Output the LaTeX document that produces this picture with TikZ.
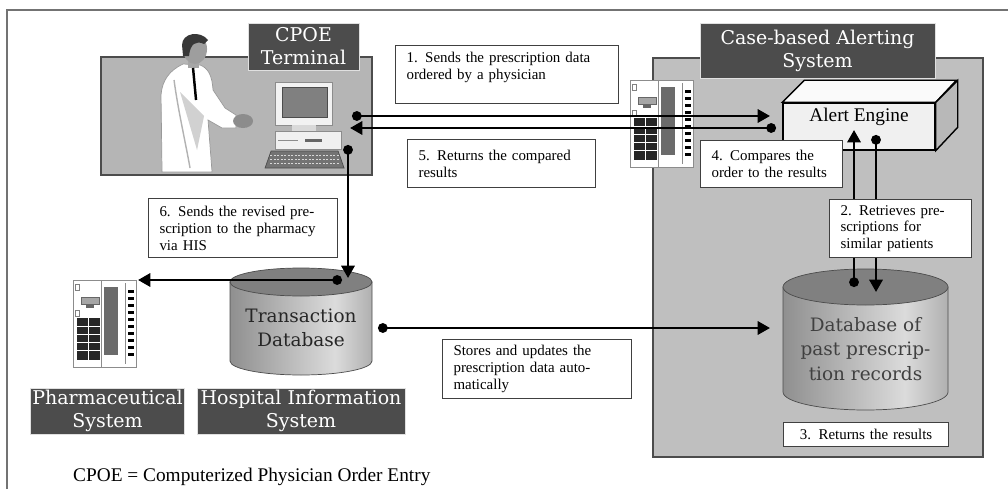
\documentclass[tikz,border=0pt]{standalone}
\usepackage{fontspec}
\setmainfont{Liberation Serif}
\newfontfamily\headfont{DejaVu Serif}
\usetikzlibrary{arrows.meta}
\definecolor{drumdark}{gray}{0.36}
\definecolor{drumlight}{gray}{0.86}
\pgfdeclarehorizontalshading{drum}{100bp}{color(0bp)=(drumdark); color(62bp)=(drumlight); color(100bp)=(drumdark)}

\begin{document}
\begin{tikzpicture}[
  panel/.style={draw=black!70, fill=black!29, line width=0.8pt, inner sep=0pt},
  tag/.style={draw=black!12, fill=black!70, text=white, align=center, inner sep=1pt,
              font=\headfont\fontsize{10.8}{13}\selectfont},
  note/.style={draw=black!75, fill=white, line width=0.6pt, anchor=north west, align=left,
               inner xsep=0.22cm, inner ysep=0.05cm, font=\fontsize{8.5}{9.6}\selectfont},
  flow/.style={line width=1.5pt, arrows={Circle[length=5.5pt]-Triangle[length=7pt,width=7.5pt]}},
  drumtxt/.style={align=center, text=black!85, font=\headfont\fontsize{10.5}{14}\selectfont},
  rack/.pic={
    \begin{scope}[x=0.02cm, y=-0.02cm]
      \filldraw[fill=white, draw=black!45] (0,0) rectangle (63,87);
      \draw[black!45] (28,0) -- (28,87) (52,3) -- (52,84);
      \fill[black!58] (31,7) rectangle (45,75);
      \filldraw[fill=black!35, draw=black!60] (8,17) rectangle (26,24);
      \fill[black!60] (13,24) rectangle (21,28);
      \draw[black!50] (2,4) rectangle (6,10) (2,30) rectangle (6,36);
      \fill[black!85] (4,38) rectangle (27,80);
      \foreach \r in {46,54,62,70} \draw[white, line width=0.3pt] (4,\r) -- (27,\r);
      \draw[white, line width=0.3pt] (15.5,38) -- (15.5,80);
      \foreach \k in {10,17,...,73} \fill (55,\k) rectangle (61,\k+2.5);
    \end{scope}}]
\useasboundingbox (0,0) rectangle (20.16,9.78);
\draw[black!55, line width=0.8pt] (0.14,0) -- (0.14,9.58) -- (20.16,9.58);

% panels and their titles
\node[panel, minimum width=5.42cm, minimum height=2.36cm] (termpanel) at (4.73,7.46) {};
\node[panel, fill=black!25, minimum width=6.6cm, minimum height=7.98cm] (casepanel) at (16.36,4.63) {};
\node[tag, minimum width=2.22cm, minimum height=0.94cm] (cpoetag) at (6.07,8.85) {CPOE\\Terminal};
\node[tag, minimum width=4.7cm, minimum height=1.1cm] (casetag) at (16.35,8.77) {Case-based Alerting\\System};
\node[tag, minimum width=3.02cm, minimum height=0.92cm] (pharmtag) at (2.15,1.56) {Pharmaceutical\\System};
\node[tag, minimum width=4.16cm, minimum height=0.92cm] (histag) at (6.02,1.56) {Hospital Information\\System};

% physician and terminal
\begin{scope}[shift={(0,9.78)}, x=0.02cm, y=-0.02cm]
  \filldraw[fill=white, draw=black!40] (162,172) -- (161,95) .. controls (162,80) and (170,70) .. (183,64)
    -- (200,65) .. controls (208,68) and (212,75) .. (213,90) -- (225,108) -- (236,115) -- (236,128)
    -- (222,128) -- (208,120) -- (212,172) -- cycle;
  \draw[black!30, line width=0.8pt] (174,80) .. controls (178,110) and (185,140) .. (190,168);
  \fill[black!18] (180,92) -- (204,116) -- (197,150) -- cycle;
  \fill[black!45] (243,121) ellipse[x radius=10, y radius=7];
  \fill[black!35] (188,58) rectangle (199,68);
  \fill[black!38] (195,49) ellipse[x radius=12, y radius=15];
  \fill[black!78] (182,45) .. controls (182,33) and (200,30) .. (208,40) -- (204,44)
    .. controls (196,40) and (190,44) .. (189,56) -- (183,56) -- cycle;
  \draw[black, line width=1.4pt] (193,68) -- (196,100);
  \filldraw[fill=black!5, draw=black!45] (275,82) rectangle (332,125);
  \filldraw[fill=black!50, draw=black!70] (282,87) rectangle (327,117);
  \fill[black!15] (292,125) rectangle (316,131);
  \filldraw[fill=black!6, draw=black!45] (275,131) rectangle (341,149);
  \fill[black!60] (305,139) rectangle (322,142);
  \draw[black!45] (278,140) -- (298,140);
  \filldraw[fill=black!55, draw=black!70] (271,151) -- (338,151) -- (344,168) -- (265,168) -- cycle;
  \foreach \ky in {155,159,163}
    \draw[black!15, dash pattern=on 1.2pt off 0.8pt] (270,\ky) -- (340,\ky);
\end{scope}

% servers
\pic at (12.60,8.18) {rack};
\pic at (1.46,4.18) {rack};

% alert engine
\node[draw, line width=0.8pt, fill=black!6, minimum width=3.04cm, minimum height=0.94cm, inner sep=0pt] (engine) at (17.18,7.25) {};
\filldraw[fill=black!2, line width=0.8pt] (engine.north west) -- ++(0.44,0.44) -- ++(3.04,0) -- (engine.north east) -- cycle;
\filldraw[fill=black!28, line width=0.8pt] (engine.north east) -- ++(0.44,0.44) -- ++(0,-0.94) -- (engine.south east) -- cycle;
\node[font=\fontsize{11}{13}\selectfont] (enginelbl) at (17.18,7.44) {Alert Engine};

% databases
\path[shading=drum, draw=black!70] (4.60,4.14) -- (4.60,2.56) arc[start angle=180, end angle=360, x radius=1.42, y radius=0.28] -- (7.44,4.14) -- cycle;
\filldraw[fill=black!50, draw=black!70] (6.02,4.14) ellipse[x radius=1.42, y radius=0.28];
\node[drumtxt] (transdb) at (6.02,3.22) {Transaction\\Database};
\path[shading=drum, draw=black!70] (15.66,4.04) -- (15.66,1.94) arc[start angle=180, end angle=360, x radius=1.65, y radius=0.36] -- (18.96,4.04) -- cycle;
\filldraw[fill=black!50, draw=black!70] (17.31,4.04) ellipse[x radius=1.65, y radius=0.36];
\node[drumtxt, text=black!75] (pastdb) at (17.31,2.80) {Database of\\past prescrip-\\tion records};

% connectors
\coordinate (orderout) at (7.04,7.46);  \coordinate (orderin) at (15.40,7.46);
\coordinate (resultout) at (15.52,7.22); \coordinate (resultin) at (7.00,7.22);
\coordinate (hisout) at (6.96,6.88);    \coordinate (hisin) at (6.96,4.22);
\coordinate (pharmout) at (6.84,4.18);  \coordinate (pharmin) at (2.76,4.18);
\coordinate (storeout) at (7.56,3.22);  \coordinate (storein) at (15.40,3.22);
\coordinate (retout) at (17.08,4.04);   \coordinate (retin) at (17.08,7.18);
\coordinate (queryout) at (17.52,7.08); \coordinate (queryin) at (17.52,3.94);
\draw[flow] (orderout) -- (orderin);
\draw[flow] (resultout) -- (resultin);
\draw[flow] (hisout) -- (hisin);
\draw[flow] (pharmout) -- (pharmin);
\draw[flow] (storeout) -- (storein);
\draw[flow] (retout) -- (retin);
\draw[flow] (queryout) -- (queryin);

% step notes
\node[note, text width=4.02cm, minimum height=1.16cm] (step1) at (7.90,8.88) {1. Sends the prescription data\\ordered by a physician\\~};
\node[note, text width=3.32cm, minimum height=0.96cm] (step5) at (8.14,7.00) {5. Returns the compared\\results};
\node[note, text width=2.40cm, minimum height=0.94cm] (step4) at (14.00,6.98) {4. Compares the\\order to the results};
\node[note, text width=2.40cm, minimum height=1.16cm] (step2) at (16.58,5.80) {2. Retrieves pre-\\scriptions for\\similar patients};
\node[note, text width=3.34cm, minimum height=1.18cm] (step6) at (2.96,5.82) {6. Sends the revised pre-\\scription to the pharmacy\\via HIS};
\node[note, text width=3.34cm, minimum height=1.18cm] (stores) at (8.84,3.00) {Stores and updates the\\prescription data auto-\\matically};
\node[note, align=center, text width=2.86cm, minimum height=0.48cm] (step3) at (15.66,1.34) {3. Returns the results};

\node[anchor=west, font=\fontsize{11}{13}\selectfont] (legend) at (1.34,0.24) {CPOE = Computerized Physician Order Entry};
\end{tikzpicture}
\end{document}
